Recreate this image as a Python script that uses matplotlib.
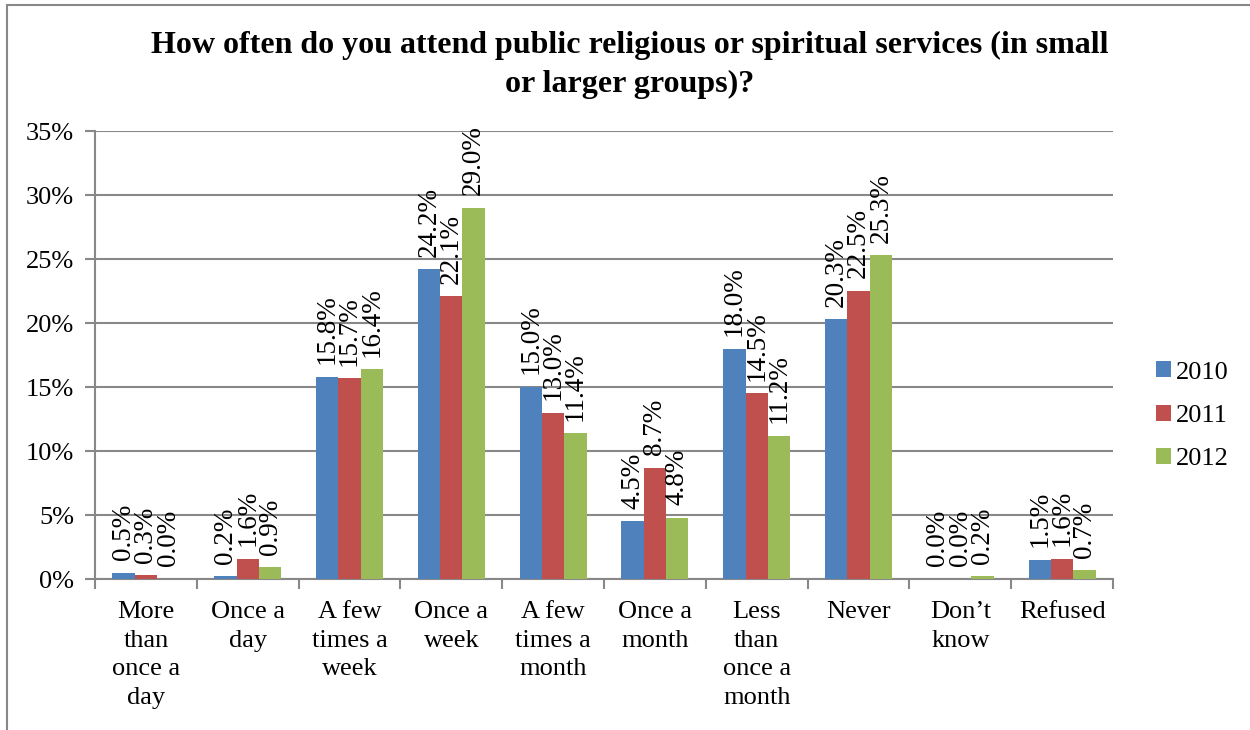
import numpy as np
import matplotlib
matplotlib.use("Agg")
import matplotlib.pyplot as plt
from matplotlib.patches import Rectangle

categories = ["More\nthan\nonce a\nday", "Once a\nday", "A few\ntimes a\nweek", "Once a\nweek",
              "A few\ntimes a\nmonth", "Once a\nmonth", "Less\nthan\nonce a\nmonth", "Never",
              "Don\u2019t\nknow", "Refused"]
years = ["2010", "2011", "2012"]
v2010 = [0.5, 0.2, 15.8, 24.2, 15.0, 4.5, 18.0, 20.3, 0.0, 1.5]
v2011 = [0.3, 1.6, 15.7, 22.1, 13.0, 8.7, 14.5, 22.5, 0.0, 1.6]
v2012 = [0.0, 0.9, 16.4, 29.0, 11.4, 4.8, 11.2, 25.3, 0.2, 0.7]
colors = ["#4F81BD", "#C0504D", "#9BBB59"]

plt.rcParams['font.family'] = ['Liberation Serif', 'DejaVu Serif']

fig = plt.figure(figsize=(12.5, 7.3), dpi=100)
ax = fig.add_axes([95 / 1250, 1 - 579 / 730, (1113 - 95) / 1250, (579 - 131) / 730])

# outer chart border
fig.patches.append(Rectangle((7 / 1250, -0.01), 1.5, 1 - 5 / 730 + 0.01, transform=fig.transFigure,
                             fill=False, edgecolor="#888888", linewidth=1.5))

x = np.arange(len(categories))
w = 0.22
for i, (vals, c, yr) in enumerate(zip([v2010, v2011, v2012], colors, years)):
    pos = x + (i - 1) * w
    ax.bar(pos, vals, width=w, color=c, label=yr, zorder=3)
    for p, v in zip(pos, vals):
        ax.annotate(f"{v:.1f}%", (p, v), xytext=(0, 9), textcoords="offset points",
                    rotation=90, ha="center", va="bottom", fontsize=19.5, zorder=4)

ax.set_xlim(-0.5, len(categories) - 0.5)
ax.set_ylim(0, 35)
ax.set_yticks(np.arange(0, 36, 5))
ax.set_yticklabels([f"{t}%" for t in range(0, 36, 5)], fontsize=19)
ax.yaxis.grid(True, color="#888888", linewidth=1.5, zorder=0)
ax.set_xticks(x)
ax.set_xticklabels(categories, fontsize=19, linespacing=1.38)
ax.tick_params(axis="x", length=0, pad=16)
ax.tick_params(axis="y", length=7, width=1.5, color="#888888", pad=8)
ax.set_xticks(np.arange(-0.5, len(categories), 1), minor=True)
ax.tick_params(axis="x", which="minor", length=7, width=1.5, color="#888888")

for s in ["top", "right"]:
    ax.spines[s].set_visible(False)
for s in ["left", "bottom"]:
    ax.spines[s].set_color("#888888")
    ax.spines[s].set_linewidth(1.5)

fig.text(630 / 1250, 1 - 65 / 730,
         "How often do you attend public religious or spiritual services (in small\nor larger groups)?",
         ha="center", va="center", fontsize=23, fontweight="bold", linespacing=1.45)

ax.legend(loc="center left", bbox_to_anchor=(1.019, 0.364), frameon=False, fontsize=19,
          handlelength=0.55, handleheight=0.55, handletextpad=0.2, labelspacing=0.8)

fig.savefig("out.png", dpi=100)
